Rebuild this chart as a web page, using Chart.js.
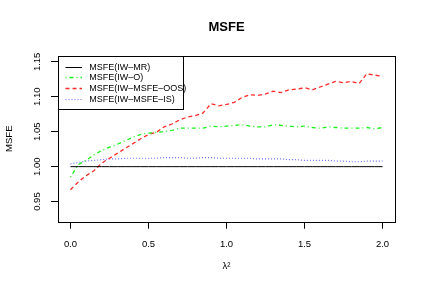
<!DOCTYPE html>
<html lang="en">
<head>
  <meta charset="UTF-8" />
  <title>MSFE</title>
  <script src="https://cdn.jsdelivr.net/npm/chart.js"></script>
  <style>
    * { margin: 0; padding: 0; box-sizing: border-box; }
    body { background: #fff; width: 424px; height: 294px; overflow: hidden; }
    canvas { display: block; }
  </style>
</head>
<body>
  <canvas id="msfeChart" width="424" height="294"></canvas>

  <script>
    // lambda^2 grid
    const lambda2 = [0.00, 0.05, 0.10, 0.15, 0.20, 0.25, 0.30, 0.35, 0.40, 0.45,
                     0.50, 0.55, 0.60, 0.65, 0.70, 0.75, 0.80, 0.85, 0.90, 0.95,
                     1.00, 1.05, 1.10, 1.15, 1.20, 1.25, 1.30, 1.35, 1.40, 1.45,
                     1.50, 1.55, 1.60, 1.65, 1.70, 1.75, 1.80, 1.85, 1.90, 1.95, 2.00];

    const msfeMR = [1, 1, 1, 1, 1, 1, 1, 1, 1, 1,
                    1, 1, 1, 1, 1, 1, 1, 1, 1, 1,
                    1, 1, 1, 1, 1, 1, 1, 1, 1, 1,
                    1, 1, 1, 1, 1, 1, 1, 1, 1, 1, 1];

    const msfeO = [0.985, 1.003, 1.009, 1.017, 1.023, 1.028, 1.032, 1.037, 1.042, 1.046,
                   1.048, 1.049, 1.050, 1.052, 1.055, 1.055, 1.055, 1.055, 1.058, 1.057,
                   1.058, 1.059, 1.060, 1.058, 1.057, 1.057, 1.060, 1.059, 1.058, 1.057,
                   1.058, 1.056, 1.055, 1.057, 1.056, 1.055, 1.055, 1.055, 1.056, 1.054, 1.056];

    const msfeOOS = [0.967, 0.978, 0.987, 0.994, 1.005, 1.012, 1.019, 1.026, 1.033, 1.040,
                     1.046, 1.049, 1.057, 1.061, 1.067, 1.071, 1.073, 1.077, 1.090, 1.087,
                     1.089, 1.092, 1.099, 1.103, 1.102, 1.104, 1.108, 1.106, 1.110, 1.111,
                     1.113, 1.110, 1.114, 1.118, 1.122, 1.120, 1.122, 1.119, 1.133, 1.131, 1.129];

    const msfeIS = [1.004, 1.006, 1.008, 1.009, 1.010, 1.011, 1.011, 1.012, 1.012, 1.012,
                    1.012, 1.012, 1.013, 1.013, 1.013, 1.012, 1.012, 1.013, 1.013, 1.012,
                    1.012, 1.012, 1.012, 1.012, 1.011, 1.011, 1.011, 1.011, 1.010, 1.010,
                    1.009, 1.009, 1.009, 1.009, 1.008, 1.008, 1.007, 1.007, 1.008, 1.008, 1.008];

    const seriesNames = ['MSFE(IW\u2013MR)', 'MSFE(IW\u2013O)', 'MSFE(IW\u2013MSFE\u2013OOS)', 'MSFE(IW\u2013MSFE\u2013IS)'];
    const xTicks = [0, 0.5, 1, 1.5, 2];
    const yTicks = [0.95, 1.00, 1.05, 1.10, 1.15];

    const FONT = "'Liberation Sans', Arial, Helvetica, sans-serif";
    const SMALL = 9.5;

    const toPoints = ys => lambda2.map((x, i) => ({ x: x, y: ys[i] }));

    const lineStyles = [
      { color: '#000000', dash: [], width: 1 },
      { color: '#1cf01c', dash: [1, 3, 4, 3], width: 1.3 },
      { color: '#ff2a2a', dash: [4, 3], width: 1.3 },
      { color: '#6a6aff', dash: [1, 2], width: 1.2 }
    ];
    const allSeries = [msfeMR, msfeO, msfeOOS, msfeIS];

    // plot box + R style legend in top left corner
    const boxLegend = {
      id: 'boxLegend',
      afterDraw(chart) {
        const { ctx, chartArea: a } = chart;
        ctx.save();
        ctx.strokeStyle = '#000';
        ctx.lineWidth = 1;
        ctx.setLineDash([]);
        ctx.strokeRect(Math.round(a.left) + 0.5, Math.round(a.top) + 0.5,
                       Math.round(a.right - a.left), Math.round(a.bottom - a.top));

        const lx = Math.round(a.left) + 0.5, ly = Math.round(a.top) + 0.5;
        ctx.fillStyle = '#fff';
        ctx.fillRect(lx, ly, 125, 53);

        ctx.font = '9px ' + FONT;
        ctx.textBaseline = 'middle';
        ctx.textAlign = 'left';
        seriesNames.forEach((name, i) => {
          const y = Math.round(a.top + 10.8 + i * 10.7) + 0.5;
          const st = lineStyles[i];
          ctx.strokeStyle = st.color;
          ctx.lineWidth = st.width;
          ctx.setLineDash(st.dash);
          ctx.beginPath();
          ctx.moveTo(a.left + 7.5, y);
          ctx.lineTo(a.left + 24, y);
          ctx.stroke();
          ctx.fillStyle = '#000';
          ctx.fillText(name, a.left + 31.3, y);
        });
        ctx.strokeStyle = '#000';
        ctx.lineWidth = 1;
        ctx.setLineDash([]);
        ctx.strokeRect(lx, ly, 125, 53);
        ctx.restore();
      }
    };

    const ctx = document.getElementById('msfeChart').getContext('2d');
    new Chart(ctx, {
      type: 'line',
      data: {
        datasets: allSeries.map((ys, i) => ({
          label: seriesNames[i],
          data: toPoints(ys),
          borderColor: lineStyles[i].color,
          borderWidth: lineStyles[i].width,
          borderDash: lineStyles[i].dash,
          pointRadius: 0,
          tension: 0,
          fill: false
        }))
      },
      options: {
        responsive: false,
        animation: false,
        events: [],
        layout: { padding: { left: 0, right: 29, top: 0, bottom: 0 } },
        plugins: {
          legend: { display: false },
          tooltip: { enabled: false },
          title: {
            display: true,
            text: 'MSFE',
            fullSize: false,
            color: '#000',
            font: { family: FONT, size: 13, weight: 'bold' },
            padding: { top: 19.9, bottom: 20.2 }
          }
        },
        scales: {
          x: {
            type: 'linear',
            min: -0.08,
            max: 2.08,
            afterBuildTicks: s => { s.ticks = xTicks.map(v => ({ value: v })); },
            afterFit: s => { s.height = 72.3; },
            grid: { drawOnChartArea: false, drawTicks: true, tickLength: 7, color: '#000' },
            border: { display: false },
            ticks: {
              autoSkip: false,
              maxRotation: 0,
              padding: 9.6,
              color: '#000',
              font: { family: FONT, size: SMALL },
              callback: v => Number(v).toFixed(1)
            },
            title: {
              display: true,
              text: 'λ²',
              color: '#000',
              font: { family: FONT, size: SMALL },
              padding: { top: 0, bottom: 22.3 }
            }
          },
          y: {
            type: 'linear',
            min: 0.9212,
            max: 1.1588,
            afterBuildTicks: s => { s.ticks = yTicks.map(v => ({ value: v })); },
            afterFit: s => { s.width = 58; },
            grid: { drawOnChartArea: false, drawTicks: true, tickLength: 7, color: '#000' },
            border: { display: false },
            ticks: {
              autoSkip: false,
              minRotation: 90,
              maxRotation: 90,
              crossAlign: 'center',
              padding: 4.3,
              color: '#000',
              font: { family: FONT, size: SMALL },
              callback: v => Number(v).toFixed(2)
            },
            title: {
              display: true,
              text: 'MSFE',
              color: '#000',
              font: { family: FONT, size: SMALL },
              padding: { top: 3.6, bottom: 0 }
            }
          }
        }
      },
      plugins: [boxLegend]
    });
  </script>
</body>
</html>
